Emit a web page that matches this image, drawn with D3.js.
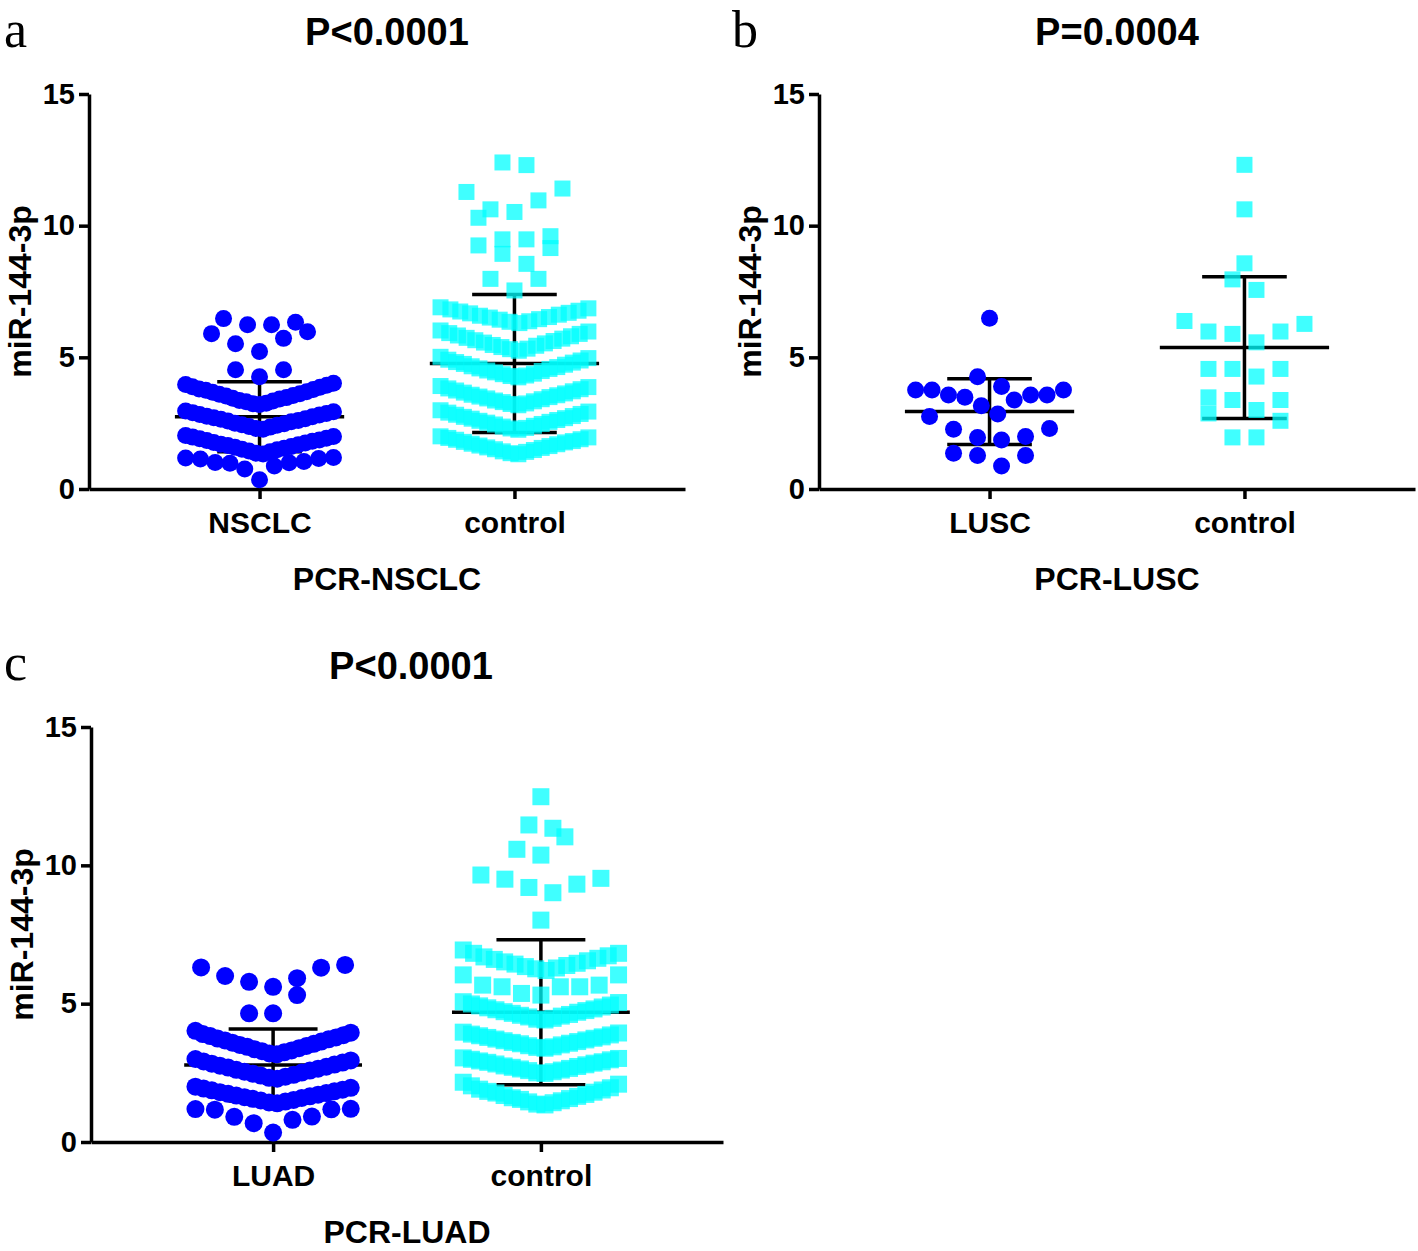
<!DOCTYPE html>
<html><head><meta charset="utf-8">
<script src="https://cdn.jsdelivr.net/npm/d3@7"></script>
<style>
body{margin:0;background:#fff;}
svg text{font-family:"Liberation Sans",Arial,Helvetica,sans-serif;}
</style></head><body>
<svg id="chart" width="1418" height="1251"></svg>
<script>
// ---------------- DATA ----------------
const panelLetters = ["a", "b", "c"];
const titles = ["P<0.0001", "P=0.0004", "P<0.0001"];
const categoriesA = ["NSCLC", "control"];
const categoriesB = ["LUSC", "control"];
const categoriesC = ["LUAD", "control"];
const xTitles = ["PCR-NSCLC", "PCR-LUSC", "PCR-LUAD"];
const yLabel = "miR-144-3p";
const yTicks = [0, 5, 10, 15];

const nsclcValues = [
  0.35, 0.76, 0.87, 0.98, 1.00, 1.01, 1.04, 1.14, 1.16, 1.18, 1.20,
  1.33, 1.36, 1.41, 1.44, 1.49, 1.51, 1.55, 1.59, 1.61, 1.65, 1.68, 1.70, 1.75, 1.77, 1.81, 1.84, 1.86, 1.91, 1.93, 1.97, 1.99, 2.03,
  2.27, 2.30, 2.35, 2.37, 2.42, 2.44, 2.48, 2.50, 2.55, 2.58, 2.60, 2.65, 2.67, 2.71, 2.74, 2.76, 2.81, 2.83, 2.87, 2.90, 2.93, 2.96,
  3.21, 3.24, 3.26, 3.31, 3.34, 3.36, 3.42, 3.45, 3.47, 3.53, 3.55, 3.60, 3.62, 3.67, 3.69, 3.75, 3.78, 3.80, 3.86, 3.88, 3.94, 3.97, 4.02,
  4.26, 4.53, 4.53, 5.22, 5.52, 5.72, 5.90, 5.97, 6.24, 6.24, 6.33, 6.47
];
const controlAValues = [
  1.32, 1.36, 1.41, 1.43, 1.48, 1.51, 1.56, 1.58, 1.63, 1.65, 1.70, 1.72, 1.77, 1.79, 1.82, 1.87, 1.89, 1.94, 1.96, 2.00,
  2.25, 2.30, 2.32, 2.37, 2.40, 2.45, 2.47, 2.52, 2.55, 2.59, 2.62, 2.67, 2.69, 2.74, 2.77, 2.82, 2.85, 2.90, 2.94, 2.99,
  3.18, 3.23, 3.25, 3.30, 3.33, 3.36, 3.41, 3.44, 3.49, 3.51, 3.56, 3.58, 3.63, 3.66, 3.71, 3.74, 3.79, 3.82, 3.87, 3.91,
  4.24, 4.29, 4.31, 4.36, 4.38, 4.43, 4.48, 4.50, 4.56, 4.58, 4.63, 4.66, 4.72, 4.75, 4.80, 4.82, 4.88, 4.91, 4.97, 5.02,
  5.25, 5.31, 5.33, 5.39, 5.44, 5.47, 5.53, 5.56, 5.62, 5.65, 5.71, 5.74, 5.80, 5.83, 5.89, 5.92, 5.98, 6.02,
  6.30, 6.35, 6.37, 6.43, 6.45, 6.51, 6.53, 6.58, 6.62, 6.67, 6.69, 6.74, 6.77, 6.82, 6.86, 6.90,
  7.54, 7.98, 7.98, 8.55, 8.93, 9.15, 9.25, 9.48, 9.48, 9.60, 10.30, 10.52, 10.62, 10.96, 11.28, 11.41, 12.30, 12.40
];
const luscValues = [
  0.87, 1.27, 1.27, 1.36, 1.86, 1.96, 1.99, 2.27, 2.30, 2.75, 2.85, 3.16,
  3.38, 3.48, 3.57, 3.57, 3.57, 3.76, 3.76, 3.76, 3.89, 4.26, 6.48
];
const controlBValues = [
  1.96, 1.96, 2.59, 2.87, 3.00, 3.38, 3.38, 3.48, 4.27, 4.56, 4.56, 4.56,
  5.57, 5.89, 5.98, 5.98, 6.27, 6.38, 7.56, 7.96, 8.57, 10.62, 12.31
];
const luadValues = [
  0.34, 0.68, 0.80, 0.91, 0.92, 1.17, 1.18, 1.19, 1.20,
  1.40, 1.43, 1.46, 1.50, 1.52, 1.56, 1.59, 1.62, 1.65, 1.68, 1.71, 1.74, 1.77, 1.80, 1.83, 1.87, 1.89, 1.93, 1.96, 2.00,
  2.29, 2.32, 2.36, 2.40, 2.43, 2.47, 2.51, 2.54, 2.58, 2.61, 2.65, 2.69, 2.72, 2.76, 2.80, 2.83, 2.87, 2.91, 2.95, 3.00,
  3.17, 3.20, 3.24, 3.28, 3.31, 3.35, 3.39, 3.44, 3.47, 3.51, 3.55, 3.59, 3.63, 3.67, 3.71, 3.74, 3.78, 3.83, 3.86, 3.90, 3.95, 4.02,
  4.65, 4.65, 5.31, 5.61, 5.79, 5.92, 6.00, 6.30, 6.31, 6.40
];
const controlCValues = [
  1.34, 1.37, 1.42, 1.45, 1.49, 1.54, 1.57, 1.60, 1.65, 1.68, 1.72, 1.77, 1.80, 1.83, 1.88, 1.91, 1.96, 2.03, 2.09, 2.16,
  2.48, 2.50, 2.54, 2.58, 2.60, 2.64, 2.66, 2.70, 2.73, 2.75, 2.79, 2.82, 2.85, 2.88, 2.90, 2.93, 2.97, 2.99, 3.02, 3.04,
  3.39, 3.42, 3.44, 3.48, 3.51, 3.55, 3.57, 3.60, 3.63, 3.66, 3.69, 3.72, 3.75, 3.78, 3.80, 3.84, 3.87, 3.90, 3.94, 3.97,
  4.41, 4.44, 4.47, 4.52, 4.55, 4.58, 4.61, 4.65, 4.69, 4.71, 4.75, 4.78, 4.81, 4.85, 4.88, 4.92, 4.95, 4.99, 5.04, 5.07,
  5.31, 5.37, 5.61, 5.61, 5.61, 5.67, 5.67, 6.04, 6.04,
  6.20, 6.26, 6.29, 6.34, 6.38, 6.43, 6.46, 6.51, 6.55, 6.60, 6.64, 6.69, 6.73, 6.82, 6.82, 6.94,
  8.02, 9.01, 9.20, 9.32, 9.50, 9.53, 9.65, 10.37, 10.58, 11.03, 11.34, 11.46, 12.48
];
// mean and SD
const meansA = [2.74, 4.77], sdsA = [1.33, 2.62];
const meansB = [2.94, 5.37], sdsB = [1.25, 2.69];
const meansC = [2.78, 4.69], sdsC = [1.30, 2.62];

// ---------------- LAYOUT ----------------
const layouts = [
  {x0: 89, x1: 685, yTop: 94, yBot: 489, pad: 0.669, letterX: 4, letterY: 46.5,
   titleY: 45, titleX: 387, yLabelX: 31, r: 8.5, sq: 16},
  {x0: 819, x1: 1415, yTop: 94, yBot: 489, pad: 0.669, letterX: 732, letterY: 46.5,
   titleY: 45, titleX: 1117, yLabelX: 761, r: 8.5, sq: 16},
  {x0: 91, x1: 723, yTop: 727, yBot: 1142, pad: 0.68, letterX: 4, letterY: 680,
   titleY: 679, titleX: 411, yLabelX: 33, r: 9, sq: 17}
];
const panels = [
  {letter: panelLetters[0], title: titles[0], cats: categoriesA, groups: [nsclcValues, controlAValues], means: meansA, sds: sdsA, xTitle: xTitles[0]},
  {letter: panelLetters[1], title: titles[1], cats: categoriesB, groups: [luscValues, controlBValues], means: meansB, sds: sdsB, xTitle: xTitles[1]},
  {letter: panelLetters[2], title: titles[2], cats: categoriesC, groups: [luadValues, controlCValues], means: meansC, sds: sdsC, xTitle: xTitles[2]}
];

const BLUE = "#0000ff", CYAN = "#00ffff";
const svg = d3.select("#chart");
svg.append("rect").attr("width", 1418).attr("height", 1251).attr("fill", "#fff");

// GraphPad-like scatter layout: bin points into rows, spread each row center-out
function rowLayout(values, y, rowPx, pitch, maxHalf) {
  const sorted = values.slice().sort((a, b) => a - b);
  const out = [];
  let i = 0;
  while (i < sorted.length) {
    const y0 = y(sorted[i]);
    let j = i;
    while (j < sorted.length && y0 - y(sorted[j]) <= rowPx + 1e-9) j++;
    const row = sorted.slice(i, j), n = row.length;
    const s = n > 1 ? Math.min(pitch, 2 * maxHalf / (n - 1)) : 0;
    row.forEach((v, k) => {
      let off;
      if (n % 2 === 1) {
        if (k === 0) off = 0;
        else { const m = Math.ceil(k / 2); off = (k % 2 === 1 ? -1 : 1) * m * s; }
      } else {
        const m = Math.floor(k / 2) + 0.5; off = (k % 2 === 0 ? 1 : -1) * m * s;
      }
      out.push({v, dx: off});
    });
    i = j;
  }
  return out;
}

panels.forEach((p, pi) => {
  const L = layouts[pi];
  const g = svg.append("g");
  const y = d3.scaleLinear().domain([0, 15]).range([L.yBot, L.yTop]);
  const x = d3.scalePoint().domain(p.cats).range([L.x0, L.x1]).padding(L.pad);
  const step = x.step();

  // panel letter
  g.append("text").attr("x", L.letterX).attr("y", L.letterY)
    .style("font-family", "'Liberation Serif','Times New Roman',serif")
    .attr("font-size", 52).text(p.letter);
  // title
  g.append("text").attr("x", L.titleX).attr("y", L.titleY)
    .attr("text-anchor", "middle").attr("font-size", 38).attr("font-weight", "bold").text(p.title);

  // y axis
  const ya = g.append("g").attr("transform", `translate(${L.x0},0)`)
    .call(d3.axisLeft(y).tickValues(yTicks).tickSize(10).tickSizeOuter(0).tickPadding(4).tickFormat(d3.format("d")));
  ya.select(".domain").attr("stroke-width", 3.5);
  ya.selectAll(".tick line").attr("stroke-width", 3.5);
  ya.selectAll(".tick text").attr("font-size", 29).attr("font-weight", "bold")
    .style("font-family", "'Liberation Sans',Arial,sans-serif").attr("fill", "#000");

  // x axis
  const xa = g.append("g").attr("transform", `translate(0,${L.yBot})`)
    .call(d3.axisBottom(x).tickSize(10).tickSizeOuter(0).tickPadding(13));
  xa.select(".domain").attr("stroke-width", 3.5);
  xa.selectAll(".tick line").attr("stroke-width", 3.5);
  xa.selectAll(".tick text").attr("font-size", 30).attr("font-weight", "bold")
    .style("font-family", "'Liberation Sans',Arial,sans-serif").attr("fill", "#000");

  // axis titles
  g.append("text").attr("x", (L.x0 + L.x1) / 2).attr("y", L.yBot + 101)
    .attr("text-anchor", "middle").attr("font-size", 32).attr("font-weight", "bold").text(p.xTitle);
  g.append("text").attr("transform", `translate(${L.yLabelX},${(L.yTop + L.yBot) / 2}) rotate(-90)`)
    .attr("text-anchor", "middle").attr("font-size", 32).attr("font-weight", "bold").text(yLabel);

  // groups
  p.groups.forEach((vals, gi) => {
    const cx = x(p.cats[gi]);
    const m = p.means[gi], sd = p.sds[gi];
    const eb = g.append("g").attr("stroke", "#000").attr("stroke-width", 3.5);
    const meanHalf = step * 0.332, capHalf = step * 0.166;
    eb.append("line").attr("x1", cx - meanHalf).attr("x2", cx + meanHalf).attr("y1", y(m)).attr("y2", y(m));
    eb.append("line").attr("x1", cx).attr("x2", cx).attr("y1", y(m - sd)).attr("y2", y(m + sd));
    eb.append("line").attr("x1", cx - capHalf).attr("x2", cx + capHalf).attr("y1", y(m + sd)).attr("y2", y(m + sd));
    eb.append("line").attr("x1", cx - capHalf).attr("x2", cx + capHalf).attr("y1", y(m - sd)).attr("y2", y(m - sd));

    const pts = rowLayout(vals, y, 24, 24, step * 0.29);
    if (gi === 0) {
      g.append("g").selectAll("circle").data(pts).join("circle")
        .attr("cx", d => cx + d.dx).attr("cy", d => y(d.v)).attr("r", L.r).attr("fill", BLUE);
    } else {
      g.append("g").selectAll("rect").data(pts).join("rect")
        .attr("x", d => cx + d.dx - L.sq / 2).attr("y", d => y(d.v) - L.sq / 2)
        .attr("width", L.sq).attr("height", L.sq).attr("fill", CYAN).attr("fill-opacity", 0.75);
    }
  });
});
</script>
</body></html>
